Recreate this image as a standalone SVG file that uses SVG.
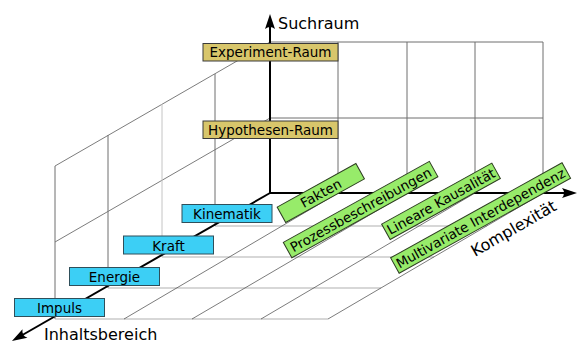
<svg xmlns="http://www.w3.org/2000/svg" width="579" height="343" viewBox="0 0 579 343">
<style>
  text { font-family: "DejaVu Sans", "Noto Sans", sans-serif; fill: #000; }
  .lbl { font-size: 13.5px; text-anchor: middle; }
  .axl { font-size: 16px; }
  .g { stroke: #6e6e6e; stroke-width: 1; fill: none; }
  .gl { stroke: #c4c4c4; stroke-width: 1; fill: none; }
  .gf { stroke: #b0b0b0; stroke-width: 1.2; fill: none; }
  .gd { stroke: #444; stroke-width: 0.7; fill: none; }
  .ax { stroke: #000; stroke-width: 2; fill: none; marker-end: url(#arr); }
  .y { fill: #d8c66b; stroke: #3a3a3a; stroke-width: 1; }
  .b { fill: #3ccff5; stroke: #2f4f5a; stroke-width: 1; }
  .gr { fill: #97eb6a; stroke: #2e3e22; stroke-width: 1; }
</style>
<defs>
  <marker id="arr" viewBox="-8 -6 17 12" refX="0" refY="0" markerWidth="17" markerHeight="12" markerUnits="userSpaceOnUse" orient="auto">
    <path d="M8,0 L-7,-5 Q-3,0 -7,5 Z" fill="#000"/>
  </marker>
</defs>

<g id="grid">
  <line class="g" x1="270" y1="42" x2="543" y2="42"/>
  <line class="g" x1="270" y1="118" x2="543" y2="118"/>
  <line class="g" x1="338" y1="42" x2="338" y2="193"/>
  <line class="g" x1="407" y1="42" x2="407" y2="193"/>
  <line class="g" x1="475" y1="42" x2="475" y2="193"/>
  <line class="g" x1="543" y1="42" x2="543" y2="193"/>
  <line class="gd" x1="270" y1="42" x2="55" y2="166"/>
  <line class="gd" x1="270" y1="118" x2="55" y2="242"/>
  <line class="g" x1="55" y1="166" x2="55" y2="319"/>
  <line class="g" x1="108" y1="135" x2="108" y2="288"/>
  <line class="gl" x1="162" y1="104" x2="162" y2="257"/>
  <line class="g" x1="215" y1="74" x2="215" y2="226"/>
  <line class="gf" x1="215" y1="226" x2="487" y2="226"/>
  <line class="gf" x1="162" y1="257" x2="434" y2="257"/>
  <line class="gf" x1="108" y1="288" x2="381" y2="288"/>
  <line class="gf" x1="55" y1="319" x2="328" y2="319"/>
  <line class="gd" x1="338" y1="193" x2="124" y2="319"/>
  <line class="gd" x1="407" y1="193" x2="192" y2="319"/>
  <line class="gd" x1="475" y1="193" x2="261" y2="319"/>
  <line class="gd" x1="543" y1="193" x2="328" y2="319"/>
</g>

<g id="axes">
  <line class="ax" x1="270" y1="193" x2="270" y2="22"/>
  <line class="ax" x1="269" y1="193" x2="569" y2="193"/>
  <line class="ax" x1="270" y1="193" x2="18.9" y2="337"/>
  <text class="axl" x="278" y="29">Suchraum</text>
  <text class="axl" x="44" y="339.5">Inhaltsbereich</text>
  <text class="axl" transform="translate(475,257) rotate(-30)">Komplexität</text>
</g>

<g id="experiment-raum">
  <rect class="y" x="203" y="43.5" width="135" height="17.5"/>
  <text class="lbl" x="270.5" y="57.3">Experiment-Raum</text>
</g>
<g id="hypothesen-raum">
  <rect class="y" x="203" y="121" width="135" height="17.5"/>
  <text class="lbl" x="270.5" y="134.8">Hypothesen-Raum</text>
</g>

<g id="kinematik">
  <rect class="b" x="182" y="204.5" width="90" height="18"/>
  <text class="lbl" x="227" y="219">Kinematik</text>
</g>
<g id="kraft">
  <rect class="b" x="123.5" y="236" width="90" height="18"/>
  <text class="lbl" x="168.5" y="250.5">Kraft</text>
</g>
<g id="energie">
  <rect class="b" x="69.5" y="267.5" width="90" height="18"/>
  <text class="lbl" x="114.5" y="282">Energie</text>
</g>
<g id="impuls">
  <rect class="b" x="14.5" y="298.5" width="90" height="18"/>
  <text class="lbl" x="59.5" y="313">Impuls</text>
</g>

<g id="fakten" transform="translate(320.8,193) rotate(-29)">
  <rect class="gr" x="-45" y="-8.8" width="90" height="17.6"/>
  <text class="lbl" x="0" y="5">Fakten</text>
</g>
<g id="prozessbeschreibungen" transform="translate(360.6,209.6) rotate(-29)">
  <rect class="gr" x="-83.5" y="-8.8" width="167" height="17.6"/>
  <text class="lbl" x="0" y="5">Prozessbeschreibungen</text>
</g>
<g id="lineare-kausalitaet" transform="translate(441,201.3) rotate(-29)">
  <rect class="gr" x="-63" y="-8.8" width="126" height="17.6"/>
  <text class="lbl" x="0" y="5">Lineare Kausalität</text>
</g>
<g id="multivariate-interdependenz" transform="translate(480.6,218) rotate(-29)">
  <rect class="gr" x="-98" y="-8.8" width="196" height="17.6"/>
  <text class="lbl" x="0" y="5">Multivariate Interdependenz</text>
</g>
</svg>
